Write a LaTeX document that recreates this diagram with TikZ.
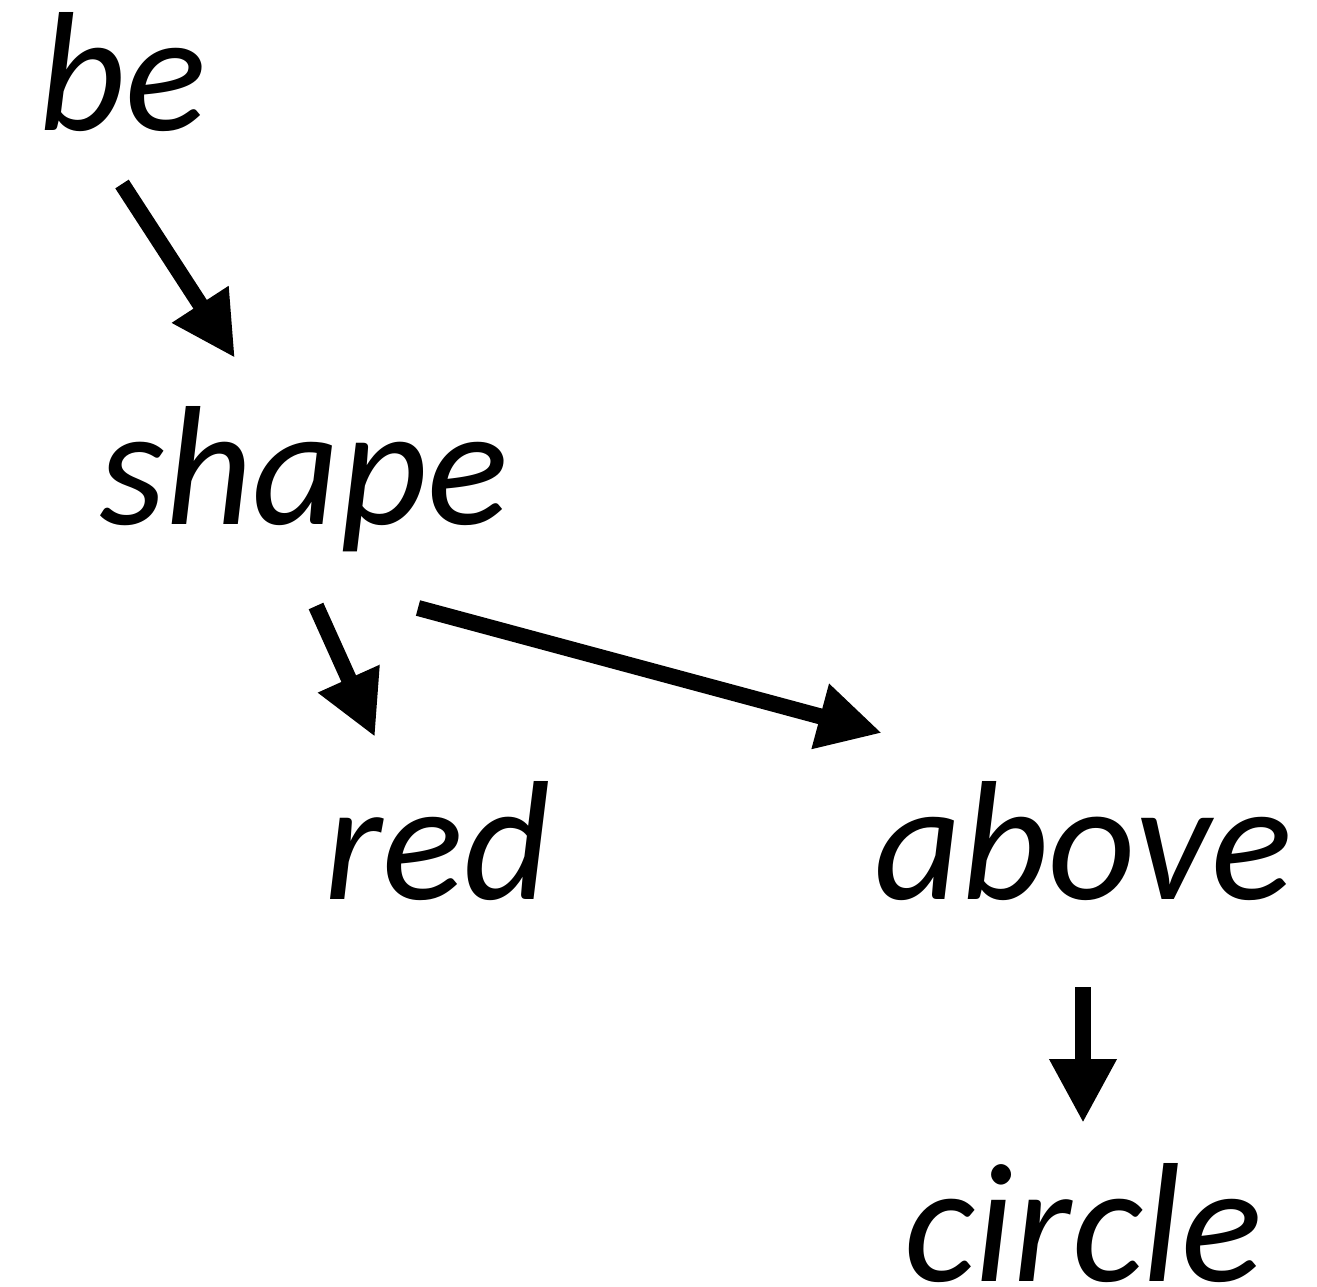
\documentclass[tikz,border=0pt]{standalone}
\usepackage{fontspec}
\setmainfont{Carlito}
\usetikzlibrary{arrows.meta}
\begin{document}
\begin{tikzpicture}[x=1pt,y=-1pt,
  word/.style={inner sep=0pt,anchor=base west,font=\fontsize{170}{170}\selectfont\itshape},
  link/.style={line width=16pt,-{Triangle[width=63pt,length=64pt]}}]
\useasboundingbox (0,0) rectangle (1317,1286);
\node[word] (be) at (38,130) {be};
\node[word] (shape) at (99,524) {shape};
\node[word] (red) at (324,899) {red};
\node[word] (above) at (874,899) {above};
\node[word] (circle) at (904,1281) {circle};
\coordinate (beS) at (122,184);
\coordinate (shapeT) at (235,358);
\coordinate (shapeS1) at (316,606);
\coordinate (redT) at (375,737);
\coordinate (shapeS2) at (418,608);
\coordinate (aboveT) at (882,733);
\coordinate (aboveS) at (1083,987);
\coordinate (circleT) at (1083,1123);
\draw[link] (beS) -- (shapeT);
\draw[link] (shapeS1) -- (redT);
\draw[link] (shapeS2) -- (aboveT);
\draw[link] (aboveS) -- (circleT);
\end{tikzpicture}
\end{document}
